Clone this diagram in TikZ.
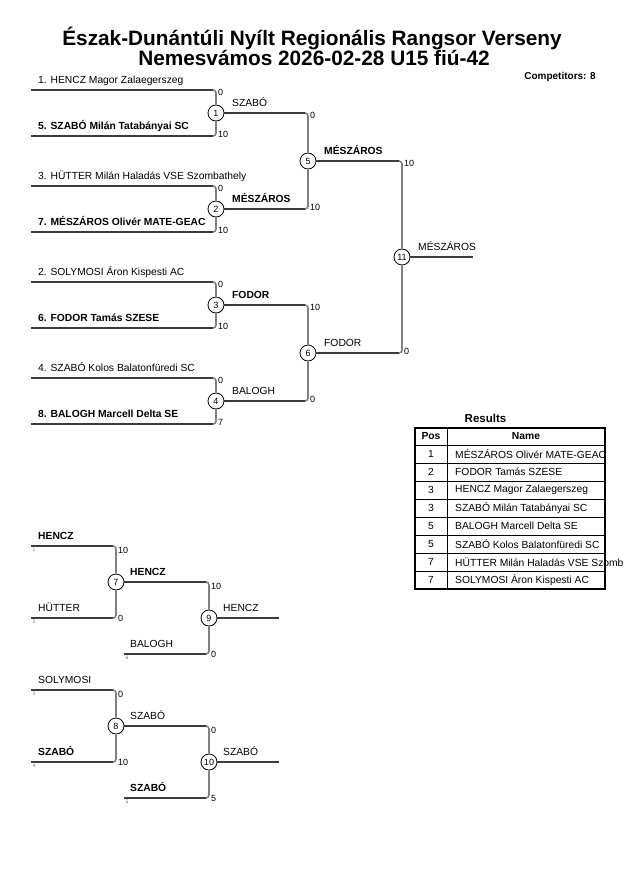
\documentclass[tikz,border=0pt]{standalone}
\usepackage{fontspec}
\setmainfont{Liberation Sans}
\definecolor{hcol}{HTML}{3C3C3C}
\definecolor{vcol}{HTML}{808080}
\definecolor{seedcol}{HTML}{707070}
\tikzset{
  hl/.style={draw=hcol, line width=1.6pt},
  vl/.style={draw=vcol, line width=1.6pt, rounded corners=3pt},
  mcirc/.style={circle, draw=black, line width=0.8pt, fill=white, minimum size=16pt, inner sep=0pt, font=\fontsize{9}{9}\selectfont},
  lab/.style={anchor=base west, inner sep=0pt, font=\fontsize{10.3}{12}\selectfont},
  labb/.style={anchor=base west, inner sep=0pt, font=\fontsize{10.3}{12}\selectfont\bfseries},
  sc/.style={anchor=west, inner sep=0pt, font=\fontsize{9}{9}\selectfont},
  seed/.style={anchor=north west, inner sep=0pt, font=\fontsize{5}{5}\selectfont, text=seedcol},
  ttl/.style={anchor=base, inner sep=0pt, font=\fontsize{20.8}{21}\selectfont\bfseries},
  tcell/.style={anchor=center, inner sep=0pt, font=\fontsize{10.3}{12}\selectfont},
  tname/.style={anchor=west, inner sep=0pt, font=\fontsize{10.3}{12}\selectfont},
}
\begin{document}
\begin{tikzpicture}[x=1pt,y=-1pt]
\useasboundingbox (0,0) rectangle (630,891);
% titles
\node[ttl] (t1) at (312,45.3) {Észak-Dunántúli Nyílt Regionális Rangsor Verseny};
\node[ttl] (t2) at (314,65.6) {Nemesvámos 2026-02-28 U15 fiú-42};
\node[anchor=base east, inner sep=0pt, font=\fontsize{10}{12}\selectfont\bfseries] (comp) at (596,79) {Competitors: 8};

% ---------------- main bracket ----------------
\node[mcirc] (m1) at (216,113) {1};
\node[mcirc] (m2) at (216,209) {2};
\node[mcirc] (m3) at (216,305) {3};
\node[mcirc] (m4) at (216,401) {4};
\node[mcirc] (m5) at (308,161) {5};
\node[mcirc] (m6) at (308,353) {6};
\node[mcirc] (m11) at (402,257) {11};

\foreach \y/\m in {90/m1,136/m1,186/m2,232/m2,282/m3,328/m3,378/m4,424/m4}{
  \coordinate (s\y) at (31,\y);
  \draw[vl] (s\y) -| (\m);
  \draw[hl] (s\y) -- ([xshift=-3pt]s\y -| \m);
}
\foreach \a/\b in {m1/m5,m2/m5,m3/m6,m4/m6,m5/m11,m6/m11}{
  \draw[vl] (\a) -| (\b);
  \draw[hl] (\a.east) -- ([xshift=-3pt]\a -| \b);
}
\coordinate (f11) at (473,257);
\draw[hl] (m11) -- (f11);

% competitor names
\node[lab]  (n1) at (38,83)  {1. HENCZ Magor Zalaegerszeg};
\node[labb] (n5) at (38,129) {5. SZABÓ Milán Tatabányai SC};
\node[lab]  (n3) at (38,179) {3. HÜTTER Milán Haladás VSE Szombathely};
\node[labb] (n7) at (38,225) {7. MÉSZÁROS Olivér MATE-GEAC};
\node[lab]  (n2) at (38,275) {2. SOLYMOSI Áron Kispesti AC};
\node[labb] (n6) at (38,321) {6. FODOR Tamás SZESE};
\node[lab]  (n4) at (38,371) {4. SZABÓ Kolos Balatonfüredi SC};
\node[labb] (n8) at (38,417) {8. BALOGH Marcell Delta SE};

% winner labels
\node[lab]  (w1) at (232,106.5) {SZABÓ};
\node[labb] (w2) at (232,202.5) {MÉSZÁROS};
\node[labb] (w3) at (232,298.5) {FODOR};
\node[lab]  (w4) at (232,394.5) {BALOGH};
\node[labb] (w5) at (324,154.5) {MÉSZÁROS};
\node[lab]  (w6) at (324,346.5) {FODOR};
\node[lab]  (w11) at (418,250.5) {MÉSZÁROS};

% scores
\node[sc] (c1a) at (218,92.5) {0};
\node[sc] (c1b) at (218,134.5) {10};
\node[sc] (c2a) at (218,188.5) {0};
\node[sc] (c2b) at (218,230.5) {10};
\node[sc] (c3a) at (218,284.5) {0};
\node[sc] (c3b) at (218,326.5) {10};
\node[sc] (c4a) at (218,380.5) {0};
\node[sc] (c4b) at (218,422.5) {7};
\node[sc] (c5a) at (310,115.5) {0};
\node[sc] (c5b) at (310,207.5) {10};
\node[sc] (c6a) at (310,307.5) {10};
\node[sc] (c6b) at (310,399.5) {0};
\node[sc] (c11a) at (404,163.5) {10};
\node[sc] (c11b) at (404,351.5) {0};

% ---------------- results table ----------------
\node[anchor=base, inner sep=0pt, font=\fontsize{11.5}{13}\selectfont\bfseries] (res) at (485.5,422) {Results};
\foreach \k in {0,...,7}{
  \draw[black, line width=0.7pt] (415,445+18*\k) -- (605,445+18*\k);
}
\draw[black, line width=0.7pt] (447,428) -- (447,589);
\draw[black, line width=1.5pt] (415,428) rectangle (605,589);
\node[tcell, font=\fontsize{10.3}{12}\selectfont\bfseries] (hpos) at (431,436.5) {Pos};
\node[tcell, font=\fontsize{10.3}{12}\selectfont\bfseries] (hname) at (526,436.5) {Name};
\foreach \k/\p/\n in {0/1/MÉSZÁROS Olivér MATE-GEAC,1/2/FODOR Tamás SZESE,2/3/HENCZ Magor Zalaegerszeg,3/3/SZABÓ Milán Tatabányai SC,4/5/BALOGH Marcell Delta SE,5/5/SZABÓ Kolos Balatonfüredi SC,6/7/HÜTTER Milán Haladás VSE Szomb,7/7/SOLYMOSI Áron Kispesti AC}{
  \node[tcell] (rp\k) at (431,454+18*\k) {\p};
  \node[tname] (rn\k) at (455,454+18*\k) {\n};
}

% ---------------- repechage ----------------
\node[mcirc] (m7) at (116,582) {7};
\node[mcirc] (m9) at (209,618) {9};
\node[mcirc] (m8) at (116,726) {8};
\node[mcirc] (m10) at (209,762) {10};

\foreach \x/\y/\m/\s in {31/546/m7/1,31/618/m7/2,124/654/m9/6,31/690/m8/3,31/762/m8/4,124/798/m10/5}{
  \coordinate (r\y) at (\x,\y);
  \draw[vl] (r\y) -| (\m);
  \draw[hl] (r\y) -- ([xshift=-3pt]r\y -| \m);
  \node[seed] (sd\y) at (\x+1.5,\y+2) {\s};
}
\foreach \a/\b in {m7/m9,m8/m10}{
  \draw[vl] (\a) -| (\b);
  \draw[hl] (\a.east) -- ([xshift=-3pt]\a -| \b);
}
\coordinate (f9) at (279,618);
\coordinate (f10) at (279,762);
\draw[hl] (m9) -- (f9);
\draw[hl] (m10) -- (f10);

\node[labb] (q1) at (38,539.5) {HENCZ};
\node[lab]  (q2) at (38,611.5) {HÜTTER};
\node[lab]  (q6) at (130,647.5) {BALOGH};
\node[labb] (q7) at (130,575.5) {HENCZ};
\node[lab]  (q9) at (223,611.5) {HENCZ};
\node[lab]  (q3) at (38,683.5) {SOLYMOSI};
\node[labb] (q4) at (38,755.5) {SZABÓ};
\node[labb] (q5) at (130,791.5) {SZABÓ};
\node[lab]  (q8) at (130,719.5) {SZABÓ};
\node[lab]  (q10) at (223,755.5) {SZABÓ};

\node[sc] (d7a) at (118,550.5) {10};
\node[sc] (d7b) at (118,618) {0};
\node[sc] (d9a) at (211,586.5) {10};
\node[sc] (d9b) at (211,654) {0};
\node[sc] (d8a) at (118,694.5) {0};
\node[sc] (d8b) at (118,762) {10};
\node[sc] (d10a) at (211,730.5) {0};
\node[sc] (d10b) at (211,798) {5};
\end{tikzpicture}
\end{document}
